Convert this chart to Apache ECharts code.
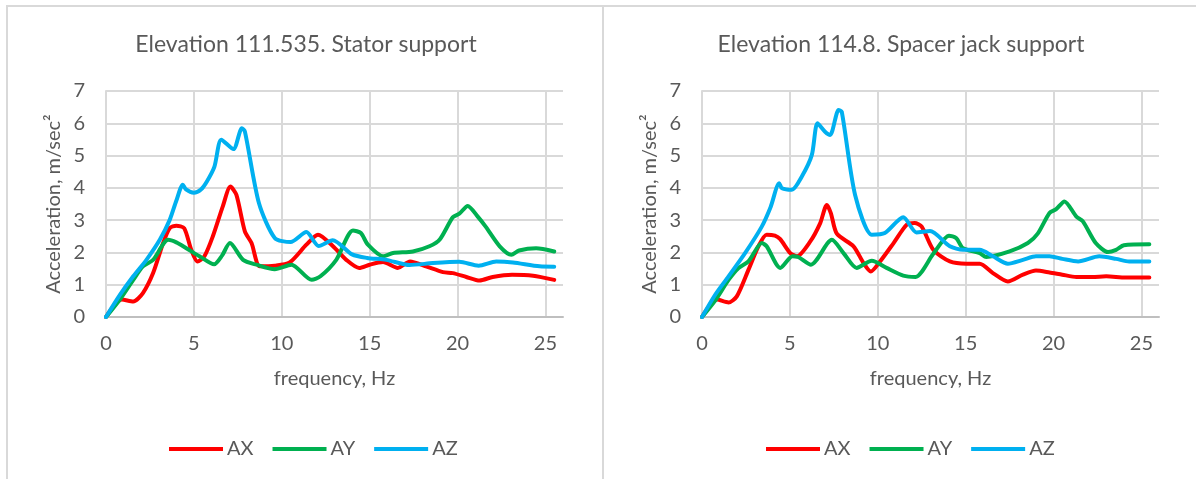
<!DOCTYPE html>
<html>
<head>
<meta charset="utf-8">
<script src="https://cdn.jsdelivr.net/npm/echarts@6/dist/echarts.min.js"></script>
<style>
  html, body { margin: 0; padding: 0; background: #ffffff; }
  #chart { width: 1196px; height: 479px; }
</style>
</head>
<body>
<div id="chart"></div>
<script>
// Vibration spectra: [frequency Hz, acceleration m/sec²]
const seriesNames = ['AX', 'AY', 'AZ'];
const titles = ['Elevation 111.535. Stator support', 'Elevation 114.8. Spacer jack support'];
const xTicks = [0, 5, 10, 15, 20, 25];
const yTicks = [0, 1, 2, 3, 4, 5, 6, 7];

// Elevation 111.535 — stator support
const statorAX = [[0,0],[0.9,0.54],[1.55,0.48],[2.1,0.74],[2.68,1.36],[3.25,2.29],[3.62,2.75],[4.0,2.83],[4.45,2.75],[4.85,2.08],[5.2,1.72],[5.6,1.88],[6.08,2.5],[6.64,3.42],[7.08,4.04],[7.42,3.78],[7.9,2.65],[8.28,2.29],[8.75,1.57],[9.6,1.59],[10.45,1.69],[11.4,2.24],[12.06,2.55],[12.9,2.2],[13.67,1.77],[14.4,1.52],[15.0,1.62],[15.76,1.7],[16.6,1.52],[17.3,1.72],[18.2,1.57],[19.17,1.39],[19.73,1.36],[20.5,1.24],[21.25,1.13],[22.0,1.24],[23.1,1.31],[24.3,1.28],[25.5,1.15]];
const statorAY = [[0,0],[0.8,0.55],[1.55,1.15],[2.1,1.57],[2.68,1.77],[3.53,2.39],[4.0,2.31],[4.57,2.13],[5.32,1.88],[6.15,1.63],[6.6,1.9],[7.05,2.29],[7.8,1.77],[8.56,1.62],[9.6,1.48],[10.55,1.62],[11.7,1.15],[12.2,1.26],[13.1,1.77],[14.05,2.68],[14.5,2.6],[14.9,2.24],[15.76,1.88],[16.33,1.98],[17.46,2.03],[18.4,2.19],[19.0,2.41],[19.73,3.09],[20.1,3.2],[20.58,3.44],[21.15,3.11],[21.6,2.8],[22.4,2.19],[23.06,1.93],[23.5,2.06],[24.47,2.13],[25.5,2.03]];
const statorAZ = [[0,0],[0.8,0.69],[1.55,1.26],[2.3,1.77],[3.06,2.39],[3.62,3.0],[4.0,3.6],[4.37,4.1],[4.55,3.95],[5.0,3.85],[5.4,3.95],[5.74,4.2],[6.17,4.66],[6.56,5.49],[7.25,5.2],[7.73,5.85],[7.9,5.75],[8.7,3.53],[9.6,2.45],[10.5,2.32],[11.4,2.63],[12.1,2.2],[12.9,2.38],[14.0,1.94],[14.85,1.83],[15.95,1.77],[17.27,1.61],[18.6,1.67],[20.1,1.71],[21.2,1.59],[22.2,1.72],[23.15,1.69],[24.67,1.57],[25.5,1.56]];

// Elevation 114.8 — spacer jack support
const jackAX = [[0,0],[0.85,0.54],[1.51,0.45],[1.98,0.64],[2.64,1.46],[3.21,2.19],[3.68,2.55],[4.15,2.52],[4.45,2.41],[5.02,1.98],[5.4,1.88],[6.16,2.34],[6.72,2.9],[7.1,3.47],[7.33,3.22],[7.67,2.58],[8.62,2.19],[9.19,1.67],[9.6,1.41],[10.13,1.72],[10.9,2.29],[11.65,2.86],[12.1,2.91],[12.5,2.8],[13.16,2.08],[14.1,1.72],[15.04,1.65],[15.8,1.65],[16.55,1.36],[17.4,1.1],[18.26,1.31],[19.0,1.44],[19.77,1.38],[20.5,1.31],[21.3,1.24],[22.2,1.24],[23.0,1.26],[24.1,1.22],[25.45,1.22]];
const jackAY = [[0,0],[0.8,0.55],[1.51,1.15],[2.08,1.52],[2.64,1.72],[3.41,2.29],[3.68,2.19],[4.45,1.52],[5.15,1.88],[5.47,1.86],[6.2,1.62],[7.39,2.39],[8.05,1.98],[8.8,1.52],[9.66,1.74],[10.5,1.52],[11.45,1.28],[12.15,1.24],[13.15,1.95],[14.05,2.52],[14.47,2.44],[14.85,2.13],[15.8,1.98],[16.17,1.86],[17.5,2.03],[18.54,2.29],[19.1,2.58],[19.77,3.22],[20.15,3.34],[20.62,3.58],[21.3,3.11],[21.67,2.96],[22.4,2.29],[23.1,2.01],[23.56,2.08],[24.0,2.22],[25.45,2.25]];
const jackAZ = [[0,0],[0.75,0.69],[1.51,1.26],[2.45,1.98],[3.4,2.8],[3.9,3.4],[4.39,4.14],[4.55,3.99],[5.11,3.94],[5.68,4.35],[6.25,5.02],[6.57,6.0],[7.0,5.74],[7.29,5.64],[7.77,6.41],[7.95,6.36],[8.71,3.78],[9.66,2.55],[10.4,2.6],[11.45,3.09],[12.2,2.62],[12.97,2.66],[14.1,2.19],[14.85,2.08],[15.8,2.08],[16.55,1.88],[17.4,1.65],[18.26,1.77],[19.0,1.88],[19.77,1.88],[20.5,1.8],[21.4,1.72],[22.6,1.88],[23.56,1.8],[24.3,1.72],[25.45,1.72]];

const colors = ['#ff0000', '#00b050', '#00b0f0'];
const FONT = 'Lato, "Open Sans", sans-serif';
const TEXT = '#595959';
const GRID_LINE = '#d9d9d9';

const panels = [
  { grid: { left: 106, top: 91, width: 457, height: 226 }, center: 306, legendLeft: 164, data: [statorAX, statorAY, statorAZ] },
  { grid: { left: 702, top: 91, width: 457, height: 226 }, center: 901, legendLeft: 761, data: [jackAX, jackAY, jackAZ] }
];

const chart = echarts.init(document.getElementById('chart'), null, { renderer: 'canvas' });

const option = {
  backgroundColor: '#ffffff',
  animation: false,
  color: colors,
  textStyle: { fontFamily: FONT },
  grid: panels.map(p => Object.assign({ containLabel: false }, p.grid)),
  xAxis: panels.map((p, i) => ({
    type: 'value', gridIndex: i, min: xTicks[0], max: 26, interval: xTicks[1] - xTicks[0],
    name: 'frequency, Hz', nameLocation: 'middle', nameGap: 52,
    nameTextStyle: { color: TEXT, fontSize: 20, fontFamily: FONT },
    axisLine: { show: true, lineStyle: { color: '#bfbfbf', width: 2 } },
    axisTick: { show: false },
    axisLabel: { color: TEXT, fontSize: 20, fontFamily: FONT, margin: 17, showMaxLabel: false },
    splitLine: { show: true, showMaxLine: false, lineStyle: { color: GRID_LINE, width: 2 } }
  })),
  yAxis: panels.map((p, i) => ({
    type: 'value', gridIndex: i, min: yTicks[0], max: yTicks[yTicks.length - 1], interval: 1,
    name: 'Acceleration, m/sec²', nameLocation: 'middle', nameGap: 42,
    nameTextStyle: { color: TEXT, fontSize: 20, fontFamily: FONT },
    axisLine: { show: true, lineStyle: { color: GRID_LINE, width: 2 } },
    axisTick: { show: false },
    axisLabel: { color: TEXT, fontSize: 20, fontFamily: FONT, margin: 21 },
    splitLine: { show: true, lineStyle: { color: GRID_LINE, width: 2 } }
  })),
  legend: panels.map(p => ({
    data: seriesNames, left: p.legendLeft, top: 434, orient: 'horizontal',
    icon: 'rect', itemWidth: 54, itemHeight: 4, itemGap: 19,
    textStyle: { color: TEXT, fontSize: 20, fontFamily: FONT, padding: [0, 0, 0, -1] }
  })),
  series: [],
  graphic: []
};

panels.forEach((p, i) => {
  p.data.forEach((d, k) => {
    option.series.push({
      name: seriesNames[k], type: 'line', xAxisIndex: i, yAxisIndex: i,
      data: d, showSymbol: false, symbol: 'none', smooth: 0.25,
      lineStyle: { width: 4, color: colors[k], cap: 'round', join: 'round' },
      itemStyle: { color: colors[k] }
    });
  });
  option.graphic.push({
    type: 'text', x: p.center, y: 45, silent: true,
    style: { text: titles[i], fill: TEXT, fontSize: 23, fontFamily: FONT, align: 'center', verticalAlign: 'middle' }
  });
});

// chart-area frames
option.graphic.push(
  { type: 'rect', silent: true, shape: { x: 7, y: 6, width: 596, height: 490 }, style: { fill: 'none', stroke: GRID_LINE, lineWidth: 2 } },
  { type: 'rect', silent: true, shape: { x: 603, y: 6, width: 600, height: 490 }, style: { fill: 'none', stroke: GRID_LINE, lineWidth: 2 } }
);

chart.setOption(option);
</script>
</body>
</html>
